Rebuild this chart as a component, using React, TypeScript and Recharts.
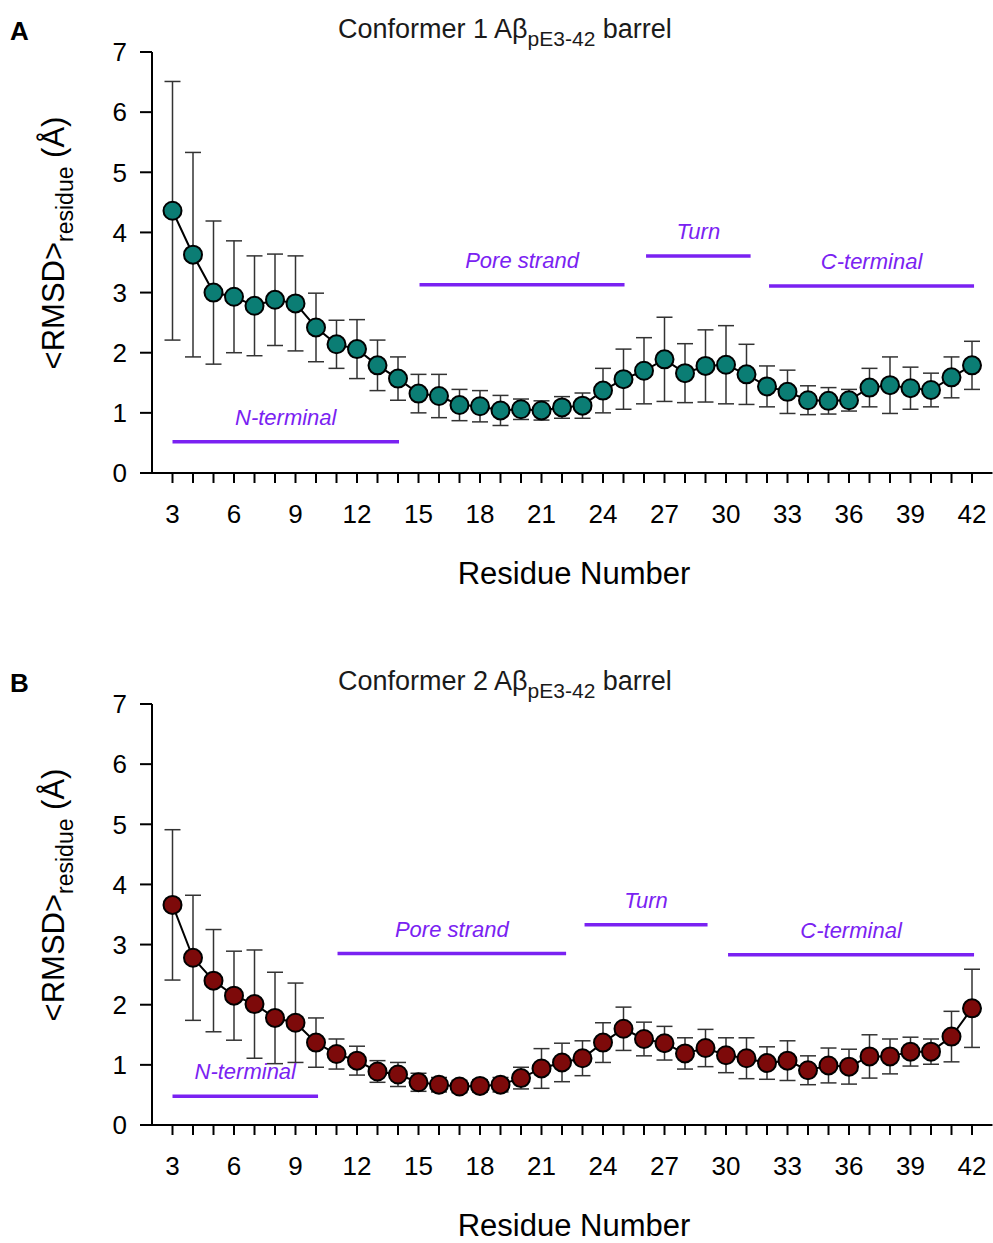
import { LineChart, Line, XAxis, YAxis, ErrorBar, ReferenceLine, ReferenceDot } from 'recharts';

// residue numbers shared by both conformers
const residues = [
  3, 4, 5, 6, 7, 8, 9, 10, 11, 12, 13, 14, 15, 16, 17, 18, 19, 20, 21, 22,
  23, 24, 25, 26, 27, 28, 29, 30, 31, 32, 33, 34, 35, 36, 37, 38, 39, 40, 41, 42,
];

const conf1Rmsd = [
  4.36, 3.63, 3.0, 2.93, 2.78, 2.88, 2.82, 2.42, 2.14, 2.06, 1.79, 1.57, 1.32, 1.28, 1.13, 1.11, 1.04, 1.06, 1.04, 1.09,
  1.12, 1.37, 1.56, 1.7, 1.89, 1.66, 1.78, 1.8, 1.64, 1.44, 1.35, 1.21, 1.2, 1.21, 1.42, 1.46, 1.41, 1.38, 1.59, 1.79,
];
const conf1Err = [
  2.15, 1.7, 1.19, 0.93, 0.83, 0.76, 0.79, 0.57, 0.4, 0.49, 0.42, 0.36, 0.32, 0.36, 0.26, 0.26, 0.25, 0.17, 0.16, 0.18,
  0.21, 0.37, 0.5, 0.55, 0.7, 0.49, 0.6, 0.65, 0.5, 0.34, 0.36, 0.24, 0.22, 0.18, 0.32, 0.47, 0.35, 0.28, 0.34, 0.4,
];

const conf2Rmsd = [
  3.66, 2.78, 2.4, 2.15, 2.01, 1.78, 1.7, 1.37, 1.18, 1.07, 0.89, 0.84, 0.71, 0.67, 0.64, 0.65, 0.67, 0.78, 0.94, 1.04,
  1.11, 1.37, 1.6, 1.43, 1.36, 1.19, 1.28, 1.16, 1.11, 1.03, 1.07, 0.91, 0.99, 0.97, 1.14, 1.14, 1.22, 1.22, 1.47, 1.94,
];
const conf2Err = [
  1.25, 1.04, 0.85, 0.74, 0.9, 0.76, 0.66, 0.41, 0.25, 0.24, 0.18, 0.2, 0.15, 0.12, 0.1, 0.1, 0.12, 0.18, 0.33, 0.32,
  0.29, 0.33, 0.36, 0.28, 0.28, 0.26, 0.31, 0.29, 0.34, 0.27, 0.33, 0.24, 0.29, 0.29, 0.36, 0.29, 0.24, 0.21, 0.42, 0.65,
];

const yTicks = [0, 1, 2, 3, 4, 5, 6, 7];

// region annotations (residue start/end, RMSD level of the bar)
const regionNames = ['N-terminal', 'Pore strand', 'Turn', 'C-terminal'];
const conf1RegionStart = [3, 15.05, 26.1, 32.1];
const conf1RegionEnd = [14.05, 25.05, 31.2, 42.1];
const conf1RegionLevel = [0.52, 3.13, 3.61, 3.11];
const conf2RegionStart = [3, 11.05, 23.1, 30.1];
const conf2RegionEnd = [10.1, 22.2, 29.1, 42.1];
const conf2RegionLevel = [0.48, 2.85, 3.33, 2.83];

const FONT = '"Liberation Sans", Arial, sans-serif';
const PURPLE = '#7a22f2';

interface PanelProps {
  letter: string;
  conformer: number;
  values: number[];
  errors: number[];
  regionStart: number[];
  regionEnd: number[];
  regionLevel: number[];
  fill: string;
  height: number;
}

function Panel({ letter, conformer, values, errors, regionStart, regionEnd, regionLevel, fill, height }: PanelProps) {
  const data = residues.map((r, i) => ({ res: r, rmsd: values[i], err: errors[i] }));

  return (
    <div style={{ position: 'relative', width: 993, height }}>
      <LineChart width={993} height={height} data={data} margin={{ top: 52, right: 0.5, left: 0, bottom: height - 533 }}>
        <XAxis
          dataKey="res"
          type="number"
          domain={[2, 43]}
          ticks={residues}
          interval={0}
          tickFormatter={(v: number) => (v % 3 === 0 ? String(v) : '')}
          tickSize={10}
          tickMargin={22}
          height={60}
          axisLine={{ stroke: '#000', strokeWidth: 2 }}
          tickLine={{ stroke: '#000', strokeWidth: 2 }}
          tick={{ fontSize: 26, fontFamily: FONT, fill: '#000' }}
        />
        <YAxis
          type="number"
          domain={[0, 7]}
          ticks={yTicks}
          width={152}
          tickSize={12}
          tickMargin={13}
          axisLine={{ stroke: '#000', strokeWidth: 2 }}
          tickLine={{ stroke: '#000', strokeWidth: 2 }}
          tick={{ fontSize: 26, fontFamily: FONT, fill: '#000' }}
        />
        {regionNames.map((name, i) => (
          <ReferenceLine
            key={name}
            segment={[
              { x: regionStart[i], y: regionLevel[i] },
              { x: regionEnd[i], y: regionLevel[i] },
            ]}
            stroke={PURPLE}
            strokeWidth={3.5}
          />
        ))}
        {regionNames.map((name, i) => (
          <ReferenceDot
            key={name + '-label'}
            x={(regionStart[i] + regionEnd[i]) / 2}
            y={regionLevel[i]}
            r={0}
            stroke="none"
            label={{
              value: name,
              position: 'top',
              offset: 17,
              fill: PURPLE,
              fontSize: 22,
              fontStyle: 'italic',
              fontFamily: FONT,
            }}
          />
        ))}
        <Line
          type="linear"
          dataKey="rmsd"
          stroke="#000"
          strokeWidth={2}
          dot={{ r: 9, fill, stroke: '#000', strokeWidth: 2 }}
          isAnimationActive={false}
        >
          <ErrorBar dataKey="err" direction="y" width={8} stroke="#333" strokeWidth={1.5} />
        </Line>
      </LineChart>
      <svg
        width={993}
        height={height}
        style={{ position: 'absolute', left: 0, top: 0, pointerEvents: 'none' }}
        fontFamily={FONT}
      >
        <text x={10} y={40} fontSize={26} fontWeight="bold" fill="#000">
          {letter}
        </text>
        <text x={338} y={38} fontSize={27} fill="#1a1a1a">
          {`Conformer ${conformer} Aβ`}
          <tspan fontSize={21} dy={8}>pE3-42</tspan>
          <tspan fontSize={27} dy={-8}> barrel</tspan>
        </text>
        <text transform="rotate(-90, 64, 243)" x={64} y={243} textAnchor="middle" fontSize={31} fill="#000">
          {'<RMSD>'}
          <tspan fontSize={23} dy={9}>residue</tspan>
          <tspan fontSize={31} dy={-9}> (Å)</tspan>
        </text>
        <text x={574} y={584} textAnchor="middle" fontSize={31} fill="#000">
          Residue Number
        </text>
      </svg>
    </div>
  );
}

export default function App() {
  return (
    <div style={{ position: 'absolute', left: 0, top: 0, width: 993, height: 1243, background: '#fff' }}>
      <Panel
        letter="A"
        conformer={1}
        values={conf1Rmsd}
        errors={conf1Err}
        regionStart={conf1RegionStart}
        regionEnd={conf1RegionEnd}
        regionLevel={conf1RegionLevel}
        fill="#0b7d74"
        height={652}
      />
      <Panel
        letter="B"
        conformer={2}
        values={conf2Rmsd}
        errors={conf2Err}
        regionStart={conf2RegionStart}
        regionEnd={conf2RegionEnd}
        regionLevel={conf2RegionLevel}
        fill="#7d0a0a"
        height={591}
      />
    </div>
  );
}
